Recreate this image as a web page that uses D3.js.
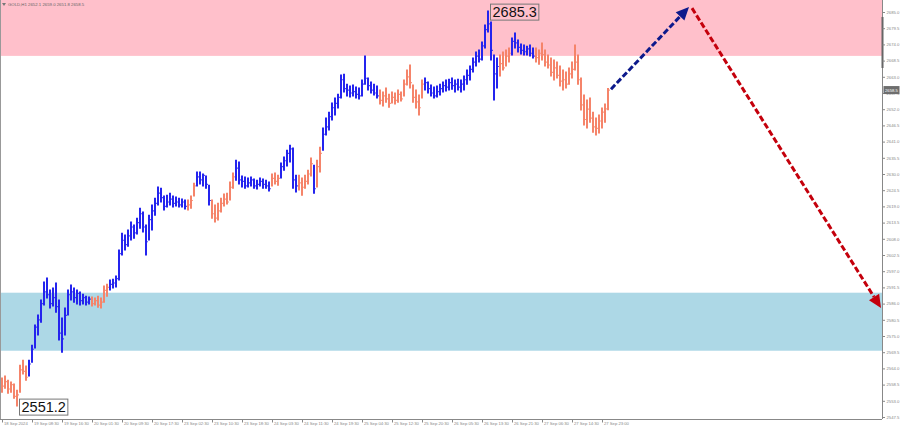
<!DOCTYPE html>
<html><head><meta charset="utf-8">
<script src="https://cdn.jsdelivr.net/npm/d3@7"></script>
<style>html,body{margin:0;padding:0;background:#fff;} svg{display:block;}</style>
</head><body><svg id="c" width="900" height="429"></svg>
<script>
const symbolTitle = "GOLD,H1  2652.1 2659.0 2651.8 2658.5";
const timeLabels = ["18 Sep 2024","19 Sep 08:30","19 Sep 16:30","20 Sep 01:30","20 Sep 09:30","20 Sep 17:30","23 Sep 02:30","23 Sep 10:30","23 Sep 18:30","24 Sep 03:30","24 Sep 11:30","24 Sep 19:30","25 Sep 04:30","25 Sep 12:30","25 Sep 20:30","26 Sep 05:30","26 Sep 13:30","26 Sep 21:30","27 Sep 06:30","27 Sep 14:30","27 Sep 23:00"];
const timeLabelBars = [0,10,20,30,40,50,60,70,80,90,100,110,120,130,140,150,160,170,180,190,200];
const priceTicks = [2547.5,2553.0,2558.5,2564.0,2569.5,2575.0,2580.5,2586.0,2591.5,2597.0,2602.5,2608.0,2613.5,2619.0,2624.5,2630.0,2635.5,2641.0,2646.5,2652.0,2657.5,2663.0,2668.5,2674.0,2679.5,2685.0];

const highs = [2560.7,2561.4,2560.0,2559.4,2558.7,2556.6,2565.1,2566.8,2564.8,
2566.8,2571.9,2578.7,2582.1,2587.2,2593.3,2594.7,2590.6,2591.3,2593.0,2587.2,2581.1,2584.5,2590.6,2592.3,2591.3,2590.6,2589.9,2589.2,2588.5,2588.2,
2588.2,2587.9,2588.5,2587.9,2592.0,2592.6,
2594.0,2594.3,2595.4,2604.2,2609.9,2609.3,2611.0,2613.7,2612.7,2615.0,2618.4,2617.1,2612.7,2616.0,2619.5,2621.8,2625.6,2625.2,2622.5,2622.8,2623.5,2622.5,2622.2,2621.8,2621.5,2621.2,
2621.2,2622.5,2626.9,
2630.7,2630.7,2630.0,2629.3,2626.2,
2621.2,2619.5,2620.1,2621.8,2623.2,2623.5,2627.3,2630.3,
2634.7,2634.1,2629.3,2629.0,2628.6,2629.0,2628.3,2627.9,2628.6,2628.3,2627.9,2627.3,
2630.0,2630.3,2629.6,
2633.7,2635.8,2638.1,2639.8,2638.8,2629.6,
2629.6,2628.6,2629.6,2631.3,2635.4,
2633.0,
2634.7,2639.1,
2645.6,2649.0,2651.0,2654.1,2655.8,2657.1,2663.6,2663.9,2660.5,2659.9,2660.2,2659.5,2659.2,2661.9,2670.1,2662.6,2661.2,2660.5,2659.9,
2658.5,2657.8,2659.2,2657.1,2657.8,2657.5,2658.5,2657.8,2661.9,2665.3,2667.0,2660.2,2658.5,2656.8,2661.9,
2662.6,2661.2,2660.2,2659.5,2659.9,2660.5,2661.2,2661.9,2662.2,2662.6,2661.9,2662.2,2661.9,2663.3,2665.3,2666.7,2669.4,2671.4,2672.1,2674.8,2680.6,2685.3,2681.6,2670.4,2669.4,
2670.4,2671.4,2672.1,2672.8,
2676.2,2677.9,2675.5,2674.1,2673.8,2673.4,2673.8,2672.8,
2672.8,2672.1,2674.5,2672.1,2670.4,2669.4,2668.7,2668.0,2666.7,2665.3,2664.6,2666.0,2668.0,2673.8,2670.4,2662.6,2656.8,2655.1,2655.8,2651.0,2649.0,2650.0,2652.4,2653.8,2659.0];

const lows = [2555.9,2557.3,2555.6,2555.9,2553.9,2551.2,2555.9,2562.1,2560.0,
2561.4,2566.1,2570.9,2575.3,2579.7,2585.5,2587.9,2584.5,2585.2,2583.1,2573.6,2569.5,2575.3,2582.1,2587.2,2586.5,2585.9,2585.5,2585.9,2585.5,2585.9,
2585.2,2585.5,2584.8,2584.5,2586.5,2588.5,
2590.6,2591.3,2591.6,2594.0,2602.5,2604.2,2605.5,2607.6,2608.2,2609.6,2611.6,2610.3,2602.5,2607.6,2611.0,2616.0,2619.5,2620.5,2617.8,2618.8,2619.5,2618.8,2619.1,2618.8,2618.8,2618.1,
2617.8,2618.4,2622.5,
2625.9,2626.6,2625.9,2625.2,2619.5,
2615.0,2613.7,2614.4,2617.1,2619.1,2619.8,2621.2,2625.2,
2627.9,2626.6,2625.6,2625.2,2625.6,2625.9,2625.2,2624.9,2625.9,2625.2,2625.2,2624.2,
2625.9,2626.6,2626.2,
2628.6,2631.3,2632.7,2634.1,2625.2,2623.9,
2624.6,2622.8,2625.2,2626.6,2629.3,
2623.5,
2625.6,2630.7,
2638.1,2643.2,2644.9,2648.3,2650.0,2652.4,2655.8,2657.8,2656.5,2656.1,2656.5,2655.8,2655.5,2656.5,2660.5,2658.5,2657.5,2656.8,2655.8,
2653.8,2653.1,2654.4,2652.7,2654.1,2653.8,2654.4,2654.8,2656.5,2660.2,2659.2,2654.4,2652.4,2650.0,2655.8,
2658.5,2657.5,2656.5,2655.8,2656.1,2656.8,2657.8,2658.2,2658.5,2658.8,2657.8,2658.5,2657.8,2658.5,2660.5,2661.9,2664.6,2666.7,2668.0,2668.7,2672.8,2678.2,2668.7,2655.1,2659.2,
2663.3,2665.3,2666.7,2668.0,
2670.4,2672.8,2671.4,2670.7,2670.4,2670.4,2670.1,2669.4,
2668.0,2667.3,2668.7,2666.7,2666.0,2663.3,2661.9,2662.6,2659.9,2658.5,2659.2,2660.5,2662.6,2665.3,2660.5,2651.7,2646.6,2645.6,2647.6,2644.2,2643.2,2643.9,2645.6,2647.6,2651.8];

const closes = [2558.0,2559.5,2557.0,2558.5,2554.5,2555.0,2563.5,2563.0,2561.0,
2565.5,2570.5,2578.0,2580.5,2586.0,2590.0,2589.0,2586.0,2588.0,2585.0,2576.0,2574.0,2582.0,2589.0,2590.0,2588.0,2589.5,2587.0,2588.0,2586.5,2587.5,
2586.0,2587.0,2585.5,2586.5,2590.5,2591.5,
2592.5,2593.0,2594.5,2603.0,2607.5,2606.0,2609.0,2612.0,2610.0,2613.5,2616.5,2612.0,2607.0,2614.5,2617.5,2620.0,2623.5,2622.0,2619.0,2620.5,2621.5,2620.0,2620.5,2619.5,2620.5,2619.0,
2619.5,2621.0,2626.0,
2629.0,2628.0,2629.5,2626.5,2621.0,
2616.5,2615.0,2617.5,2620.0,2621.5,2620.5,2625.5,2629.0,
2632.0,2628.0,2627.5,2626.0,2627.0,2628.0,2626.0,2626.5,2627.5,2626.5,2626.0,2625.0,
2628.5,2627.5,2628.5,
2632.5,2634.5,2637.0,2638.5,2628.0,2626.0,
2627.0,2625.5,2627.5,2630.0,2633.5,
2625.0,
2632.5,2637.0,
2643.5,2646.0,2649.5,2652.5,2654.0,2656.0,2662.0,2659.0,2658.5,2657.5,2658.0,2657.0,2656.5,2660.5,2662.5,2660.0,2658.5,2657.5,2656.5,
2655.0,2656.5,2655.5,2654.0,2656.0,2655.0,2657.0,2655.5,2660.5,2663.0,2661.0,2656.0,2654.5,2652.5,2660.5,
2661.0,2659.0,2657.5,2656.5,2658.0,2659.0,2660.0,2659.5,2661.0,2660.0,2660.5,2659.5,2660.5,2662.0,2663.5,2665.5,2668.0,2670.0,2669.0,2673.5,2679.0,2681.0,2672.0,2664.0,2666.5,
2667.5,2666.0,2670.0,2671.0,
2675.0,2674.5,2673.0,2672.0,2671.5,2672.5,2671.0,2670.0,
2669.5,2671.0,2670.5,2668.0,2667.0,2664.5,2666.0,2663.5,2661.5,2662.0,2660.5,2664.0,2665.5,2668.0,2662.0,2653.5,2648.5,2652.0,2649.0,2646.0,2645.5,2648.0,2651.0,2652.1,2658.5];

// wave colouring: bar index where each wave starts, and its direction
const waveStarts = [0,9,30,36,62,65,70,78,90,93,99,104,105,107,126,141,166,170,178];
const waveDirs   = ["down","up","down","up","down","up","down","up","down","up","down","up","down","up","down","up","down","up","down"];

const resistanceZone = [2670.1, 2695];
const supportZone = [2570.0, 2589.7];
const forecastUp = [[203, 2658.8], [229, 2686.7]];
const forecastDown = [[230, 2686.3], [293, 2584.5]];
const extremeLabels = [{bar:162, price:2685.3, text:"2685.3"}, {bar:5, price:2551.2, text:"2551.2"}];
const lastPrice = 2658.5;

const W = 900, H = 429, plotR = 882, plotB = 419;
const svg = d3.select("#c");
const x = d3.scaleLinear().domain([0, 202]).range([2, 608]);
const y = d3.scaleLinear().domain([2547.5, 2685.0]).range([417, 12]);
const colUp = "#2424ee", colDown = "#f5846a";
const FONT = "Liberation Sans, Arial, sans-serif";

svg.append("defs").append("clipPath").attr("id","plot")
  .append("rect").attr("x",0).attr("y",0).attr("width",plotR).attr("height",plotB);

const plot = svg.append("g").attr("clip-path","url(#plot)");
plot.append("rect").attr("x",0).attr("width",plotR)
  .attr("y", y(resistanceZone[1])).attr("height", y(resistanceZone[0]) - y(resistanceZone[1]))
  .attr("fill","#ffc0cb");
plot.append("rect").attr("x",0).attr("width",plotR)
  .attr("y", y(supportZone[1])).attr("height", y(supportZone[0]) - y(supportZone[1]))
  .attr("fill","#add8e6");

// title
svg.append("path").attr("d","M2,3 L6,3 L4,6 Z").attr("fill","#777");
svg.append("text").attr("x",8).attr("y",6.3).attr("font-family",FONT)
  .attr("font-size",4.3).attr("fill","#666").text(symbolTitle);

// bars
function dirOf(i){ let d = waveDirs[0]; for (let k=0;k<waveStarts.length;k++){ if (waveStarts[k] <= i) d = waveDirs[k]; } return d; }
const bars = plot.append("g");
highs.forEach((h,i) => {
  const c = dirOf(i) === "up" ? colUp : colDown;
  bars.append("line").attr("x1",x(i)).attr("x2",x(i)).attr("y1",y(h)-0.5).attr("y2",y(lows[i])+0.5)
    .attr("stroke",c).attr("stroke-width",2);
  bars.append("line").attr("x1",x(i)).attr("x2",x(i)+1.8).attr("y1",y(closes[i])).attr("y2",y(closes[i]))
    .attr("stroke",c).attr("stroke-width",1.2);
});

// forecast arrows
function arrow(pts, color){
  const [a,b] = pts.map(p => [x(p[0]), y(p[1])]);
  const ang = Math.atan2(b[1]-a[1], b[0]-a[0]);
  const L = 13, Wd = 6;
  const bx = b[0] - L*Math.cos(ang), by = b[1] - L*Math.sin(ang);
  plot.append("line").attr("x1",a[0]).attr("y1",a[1]).attr("x2",bx).attr("y2",by)
    .attr("stroke",color).attr("stroke-width",3).attr("stroke-dasharray","6,2.5");
  const px = -Math.sin(ang)*Wd, py = Math.cos(ang)*Wd;
  plot.append("path").attr("d",`M${b[0]},${b[1]} L${bx+px},${by+py} L${bx-px},${by-py} Z`).attr("fill",color);
}
arrow(forecastUp, "#0d1a8c");
arrow(forecastDown, "#c4000c");

// extreme labels
extremeLabels.forEach(l => {
  const g = svg.append("g");
  const t = g.append("text").attr("x", x(l.bar)+4.5).attr("y", y(l.price)+6)
    .attr("font-family",FONT).attr("font-size",14.5).attr("fill","#111").text(l.text);
  const bb = t.node().getBBox();
  g.insert("rect","text").attr("x",bb.x-2).attr("y",bb.y).attr("width",bb.width+4).attr("height",bb.height)
    .attr("fill","none").attr("stroke","#777").attr("stroke-width",1);
});

// frame
svg.append("line").attr("x1",0.5).attr("x2",0.5).attr("y1",0).attr("y2",plotB).attr("stroke","#999");
svg.append("line").attr("x1",plotR+0.5).attr("x2",plotR+0.5).attr("y1",0).attr("y2",plotB).attr("stroke","#888");
svg.append("line").attr("x1",0).attr("x2",plotR).attr("y1",plotB+0.5).attr("y2",plotB+0.5).attr("stroke","#888");
svg.append("rect").attr("x",plotR-0.5).attr("y",17).attr("width",2).attr("height",51).attr("fill","#666");

// right axis
const ya = svg.append("g").attr("transform",`translate(${plotR+0.5},0)`)
  .call(d3.axisRight(y).tickValues(priceTicks).tickSize(2.5).tickPadding(1.5).tickFormat(d3.format(".1f")));
ya.select(".domain").remove();
ya.selectAll("line").attr("stroke","#888");
ya.selectAll("text").attr("font-family",FONT).attr("font-size",4.2).attr("fill","#888");

// bottom axis
const xa = svg.append("g").attr("transform",`translate(0,${plotB+0.5})`)
  .call(d3.axisBottom(x).tickValues(timeLabelBars).tickSize(3).tickFormat((d,i) => timeLabels[i]));
xa.select(".domain").remove();
xa.selectAll("line").attr("stroke","#888");
xa.selectAll("text").attr("text-anchor","start").attr("dx",1.5).attr("dy","-0.1em")
  .attr("font-family",FONT).attr("font-size",4.2).attr("fill","#888");

// last price marker
const ly = y(lastPrice);
svg.append("rect").attr("x",plotR+1.5).attr("y",ly-4).attr("width",W-plotR-2).attr("height",8).attr("fill","#6e6e6e");
svg.append("text").attr("x",plotR+3).attr("y",ly+1.6).attr("font-family",FONT)
  .attr("font-size",4.2).attr("fill","#fff").text(lastPrice.toFixed(1));
</script></body></html>
